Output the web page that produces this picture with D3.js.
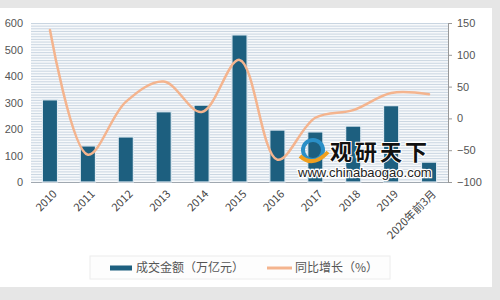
<!DOCTYPE html>
<html>
<head>
<meta charset="utf-8">
<script src="https://cdn.jsdelivr.net/npm/d3@7"></script>
<style>
  body { margin: 0; background: #e6e6e6; }
  text { font-family: "Noto Sans CJK SC", "Noto Sans", sans-serif; }
</style>
</head>
<body>
<div id="chart"></div>
<script>
// data
const years = ["2010", "2011", "2012", "2013", "2014", "2015", "2016", "2017", "2018", "2019", "2020年前3月"];
const amount = [310, 136, 170, 265, 290, 555, 196, 189, 211, 288, 75];   // 成交金额（万亿元）
const growth = [139, -57, 26, 58, 10, 92, -65, 1, 13, 40, 38];            // 同比增长（%）
const leftTicks = [0, 100, 200, 300, 400, 500, 600];
const rightTicks = [-100, -50, 0, 50, 100, 150];

const W = 500, H = 300;
const margin = { top: 23, right: 52, bottom: 118, left: 31 };

const svg = d3.select("#chart").append("svg")
    .attr("width", W)
    .attr("height", H);

// card
svg.append("rect").attr("x", 0).attr("y", 8).attr("width", 492).attr("height", 279).attr("fill", "#fff");

const x = d3.scaleBand().domain(years).range([margin.left, W - margin.right]);
const yL = d3.scaleLinear().domain([0, 600]).range([H - margin.bottom, margin.top]);
const yR = d3.scaleLinear().domain([-100, 150]).range([H - margin.bottom, margin.top]);

// striped plot background
svg.append("rect")
    .attr("x", margin.left).attr("y", margin.top)
    .attr("width", W - margin.left - margin.right)
    .attr("height", H - margin.top - margin.bottom)
    .attr("fill", "#f7f9fb");
svg.append("g").selectAll("line")
    .data(d3.range(10, 601, 10))
    .join("line")
    .attr("x1", margin.left).attr("x2", W - margin.right)
    .attr("y1", d => yL(d) + 0.5).attr("y2", d => yL(d) + 0.5)
    .attr("stroke", "#c9d5e1")
    .attr("stroke-width", 1);

// left axis
const axL = svg.append("g")
    .attr("transform", `translate(${margin.left},0)`)
    .call(d3.axisLeft(yL).tickValues(leftTicks).tickSize(0).tickPadding(8));
axL.select(".domain").remove();
axL.selectAll("text").attr("fill", "#555").style("font-size", "11px").style("font-family", "Liberation Sans, sans-serif");

// right axis
const axR = svg.append("g")
    .attr("transform", `translate(${W - margin.right},0)`)
    .call(d3.axisRight(yR).tickValues(rightTicks).tickSize(4).tickPadding(5));
axR.select(".domain").attr("stroke", "#999");
axR.selectAll("line").attr("stroke", "#999");
axR.selectAll("text").attr("fill", "#555").style("font-size", "11px").style("font-family", "Liberation Sans, sans-serif");

// baseline
svg.append("line")
    .attr("x1", margin.left).attr("x2", W - margin.right)
    .attr("y1", yL(0) + 0.5).attr("y2", yL(0) + 0.5)
    .attr("stroke", "#a0a8b0");

// bars
const bw = x.bandwidth() * 0.4;
svg.append("g").selectAll("rect")
    .data(amount)
    .join("rect")
    .attr("x", (d, i) => x(years[i]) + (x.bandwidth() - bw) / 2)
    .attr("y", d => yL(d))
    .attr("width", bw)
    .attr("height", d => yL(0) - yL(d))
    .attr("fill", "#1d5f7f")
    .attr("stroke", "#dfeaf2")
    .attr("stroke-width", 1.2);

// growth line
const line = d3.line()
    .x((d, i) => x(years[i]) + x.bandwidth() / 2)
    .y(d => yR(d))
    .curve(d3.curveCatmullRom.alpha(0.5));
svg.append("path")
    .datum(growth)
    .attr("d", line)
    .attr("fill", "none")
    .attr("stroke", "#f4b48e")
    .attr("stroke-width", 2.5)
    .attr("stroke-linecap", "round");

// x labels, rotated
svg.append("g").selectAll("text")
    .data(years)
    .join("text")
    .attr("transform", d => `translate(${x(d) + x.bandwidth() / 2 + 5},${yL(0) + 10}) rotate(-45)`)
    .attr("text-anchor", "end")
    .attr("dy", "0.35em")
    .attr("fill", "#444")
    .style("font-size", "11px")
    .text(d => d);

// watermark
const wm = svg.append("g");
wm.append("circle").attr("cx", 313).attr("cy", 150).attr("r", 10).attr("fill", "none").attr("stroke", "#2a8fc7").attr("stroke-width", 4);
wm.append("path").attr("d", "M300,156 Q313,168 328,152").attr("fill", "none").attr("stroke", "#f0a020").attr("stroke-width", 4);
wm.append("text").attr("x", 330).attr("y", 160)
    .style("font-size", "22px").style("font-weight", "bold").attr("fill", "#111")
    .attr("stroke", "#fff").attr("stroke-width", 2).attr("paint-order", "stroke")
    .attr("letter-spacing", 3)
    .text("观研天下");
wm.append("text").attr("x", 298).attr("y", 177)
    .style("font-size", "13px").style("font-family", "Liberation Sans, sans-serif").attr("fill", "#222")
    .attr("stroke", "#fff").attr("stroke-width", 2.5).attr("paint-order", "stroke")
    .text("www.chinabaogao.com");

// legend
svg.append("rect").attr("x", 90).attr("y", 256).attr("width", 300).attr("height", 23)
    .attr("fill", "#fdfdfd").attr("stroke", "#ececec");
const lg = svg.append("g").attr("transform", "translate(110,268)");
lg.append("rect").attr("x", 0).attr("y", -2.5).attr("width", 22).attr("height", 5).attr("fill", "#1d5f7f");
lg.append("text").attr("x", 26).attr("dy", "0.35em").attr("fill", "#555").style("font-size", "12px").text("成交金额（万亿元）");
lg.append("line").attr("x1", 157).attr("x2", 182).attr("y1", 0).attr("y2", 0).attr("stroke", "#f4b48e").attr("stroke-width", 3);
lg.append("text").attr("x", 185).attr("dy", "0.35em").attr("fill", "#555").style("font-size", "12px").text("同比增长（%）");
</script>
</body>
</html>
